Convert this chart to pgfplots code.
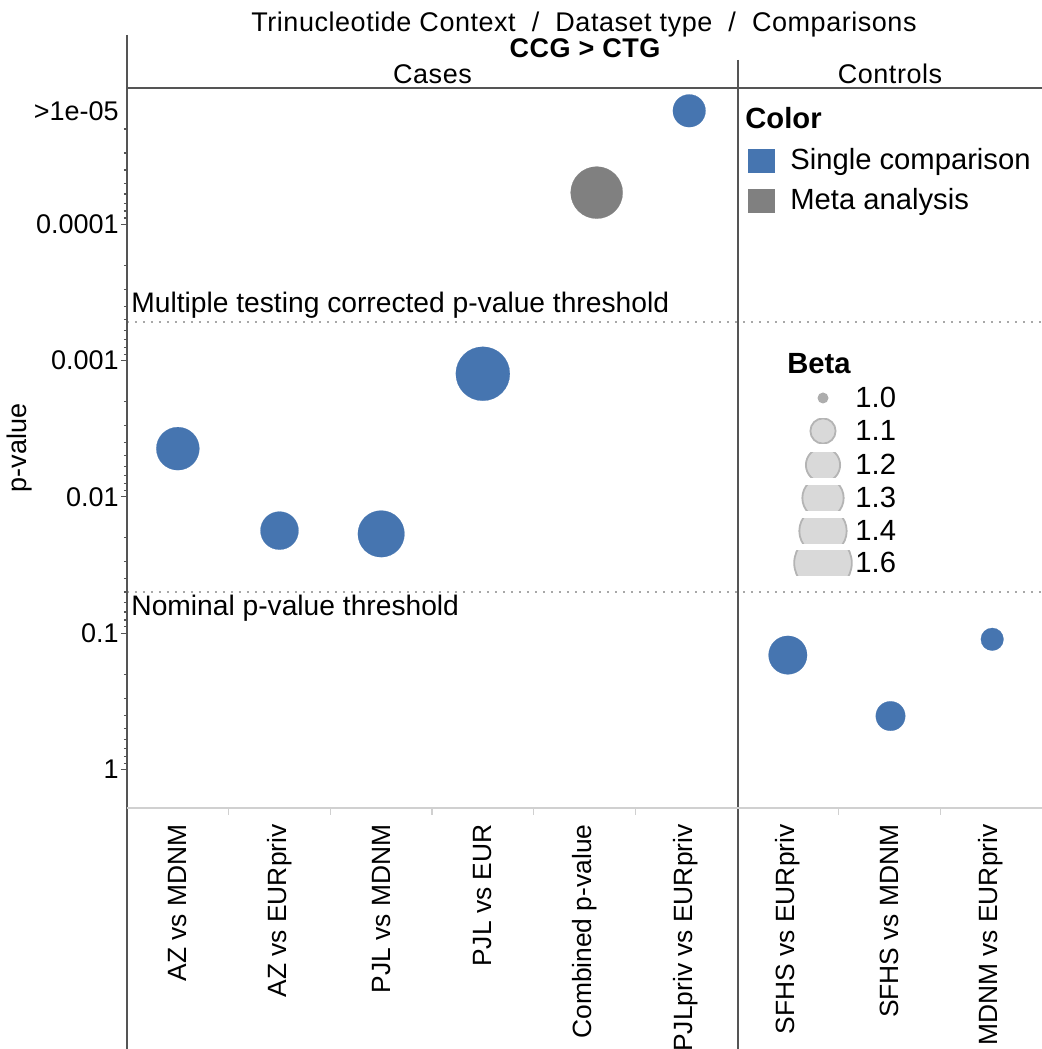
\documentclass[border=0pt]{standalone}
\usepackage{fontspec}
\setmainfont{Liberation Sans}
\newfontfamily\headfam[LetterSpace=2]{Liberation Sans}
\usepackage{pgfplots}
\usepackage{pgfplotstable}
\pgfplotsset{compat=1.18}

\definecolor{cblue}{HTML}{4675B0}
\definecolor{cgray}{HTML}{808080}
\definecolor{frameline}{HTML}{555555}
\definecolor{axisgray}{HTML}{D0D0D0}
\definecolor{threshold}{HTML}{A8A8A8}
\definecolor{legfill}{HTML}{D9D9D9}
\definecolor{legdraw}{HTML}{B4B4B4}

\newcommand\bodyfont{\fontsize{13.5}{16}\selectfont}
\newcommand\catfont{\fontsize{13.2}{16}\selectfont}
\newcommand\legfont{\fontsize{14.6}{17}\selectfont}
\newcommand\capfont{\fontsize{14.1}{17}\selectfont}
\newcommand\headfont{\headfam\fontsize{13.5}{16}\selectfont}

% x = category position, p = p-value, beta = effect size (bubble size)
\pgfplotstableread{
x     p        beta
0     0.00443  1.326
1     0.0177   1.251
2     0.0187   1.386
3     0.00125  1.525
5.03  1.47e-5  1.180
6     0.145    1.257
7.01  0.406    1.143
8.01  0.111    1.077
}\singletable

\pgfplotstableread{
x     p        beta
4.12  5.86e-5  1.486
}\metatable

% bubble radius (pt) from beta
\pgfplotsset{
  bubble/.style={
    scatter, only marks, mark=*,
    visualization depends on={\thisrow{beta} \as \betaval},
    scatter/@pre marker code/.code={%
      \pgfmathsetmacro\bubr{0.5*sqrt(25+1340*(\betaval-1))}%
      \scope[mark size=\bubr pt]%
    },
    scatter/@post marker code/.code={\endscope},
  },
}

\begin{document}
\begin{tikzpicture}
\begin{axis}[
  scale only axis, width=457.5pt, height=360pt,
  xmin=-0.5, xmax=8.5,
  ymode=log, y dir=reverse, ymin=1e-5, ymax=1.92,
  axis line style={draw=none},
  clip=false,
  font=\bodyfont,
  xtick={0,...,8},
  xticklabels={AZ vs MDNM, AZ vs EURpriv, PJL vs MDNM, PJL vs EUR, Combined p-value, PJLpriv vs EURpriv, SFHS vs EURpriv, SFHS vs MDNM, MDNM vs EURpriv},
  xtick style={draw=none},
  xticklabel style={rotate=90, anchor=east, font=\catfont, inner sep=0pt},
  xticklabel shift=5pt,
  ytick={1e-4,1e-3,1e-2,1e-1,1},
  yticklabels={0.0001,0.001,0.01,0.1,1},
  minor ytick={2e-5,3e-5,4e-5,5e-5,6e-5,7e-5,8e-5,9e-5,
               2e-4,3e-4,4e-4,5e-4,6e-4,7e-4,8e-4,9e-4,
               2e-3,3e-3,4e-3,5e-3,6e-3,7e-3,8e-3,9e-3,
               2e-2,3e-2,4e-2,5e-2,6e-2,7e-2,8e-2,9e-2,
               0.2,0.3,0.4,0.5,0.6,0.7,0.8,0.9},
  extra y ticks={1.47e-5},
  extra y tick labels={>1e-05},
  extra y tick style={tick style={draw=none}},
  ytick pos=left,
  tick align=outside,
  major tick length=3pt,
  minor tick length=1.6pt,
  ytick style={color=frameline, line width=0.6pt},
  yticklabel style={font=\bodyfont, inner sep=1pt},
  ylabel={p-value},
  ylabel style={font=\bodyfont},
  every axis y label/.style={at={(rel axis cs:0,0.5)}, xshift=-53.5pt, rotate=90, anchor=center},
]
% significance thresholds
\draw[threshold, line width=1.1pt, dash pattern=on 1.1pt off 2.9pt]
  (axis cs:-0.5,5.23e-4) -- (axis cs:8.5,5.23e-4);
\draw[threshold, line width=1.1pt, dash pattern=on 1.1pt off 2.9pt]
  (axis cs:-0.5,0.05) -- (axis cs:8.5,0.05);

% category boundary ticks below the axis
\pgfplotsinvokeforeach{0.5,1.5,2.5,3.5,4.5,6.5,7.5}{
  \draw[axisgray, line width=0.7pt] (axis cs:#1,1.92) -- ([yshift=-3.5pt]axis cs:#1,1.92);
}

\addplot[bubble, color=cblue, mark options={fill=cblue, draw=cblue, line width=0.1pt}]
  table[x=x, y=p] {\singletable};
\addplot[bubble, color=cgray, mark options={fill=cgray, draw=cgray, line width=0.1pt}]
  table[x=x, y=p] {\metatable};

\coordinate (tl) at (axis cs:-0.5,1e-5);
\end{axis}

% frame, headers and legends, in pixel units of the page (origin top-left)
\begin{scope}[shift={(tl)}, x=0.5pt, y=-0.5pt, shift={(-127,-88)}]
  % frame lines
  \draw[frameline, line width=0.6pt] (127,35) -- (127,1049);
  \draw[frameline, line width=0.6pt] (738,60) -- (738,1049);
  \draw[frameline, line width=0.6pt] (127,88) -- (1042,88);
  \draw[axisgray, line width=0.6pt] (127,808) -- (1042,808);

  % headers
  \node[anchor=base, inner sep=0pt] at (584,31.5)
    {\headfont Trinucleotide Context\ \ /\ \ Dataset type\ \ /\ \ Comparisons};
  \node[anchor=base, inner sep=0pt] at (585,57.5) {\headfont\bfseries CCG > CTG};
  \node[anchor=base, inner sep=0pt] at (432.5,84) {\headfont Cases};
  \node[anchor=base, inner sep=0pt] at (890,84) {\headfont Controls};

  % threshold captions
  \node[anchor=base west, inner sep=0pt] at (131,312.5)
    {\capfont Multiple testing corrected p-value threshold};
  \node[anchor=base west, inner sep=0pt] at (131,616)
    {\capfont Nominal p-value threshold};

  % colour legend
  \node[anchor=base west, inner sep=0pt] at (745,129) {\legfont\bfseries Color};
  \fill[cblue] (748,149) rectangle (775,173);
  \fill[cgray] (748,189) rectangle (775,213);
  \node[anchor=base west, inner sep=0pt] at (790,170) {\legfont Single comparison};
  \node[anchor=base west, inner sep=0pt] at (790,210) {\legfont Meta analysis};

  % beta (size) legend
  \node[anchor=base west, inner sep=0pt] at (787,374) {\legfont\bfseries Beta};
  \foreach \bv/\yy in {1.1/431,1.2/465,1.3/498,1.4/531,1.6/563} {
    \pgfmathsetmacro\rr{sqrt(25+1340*(\bv-1))}
    \begin{scope}
      \clip (780,\yy-12.7) rectangle (860,\yy+12.7);
      \filldraw[fill=legfill, draw=legdraw, line width=0.9pt] (823,\yy) circle[radius=\rr];
    \end{scope}
    \node[anchor=base west, inner sep=0pt] at (855,\yy+10) {\legfont\bv};
  }
  \fill[black!32] (823,398) circle[radius=5.5];
  \node[anchor=base west, inner sep=0pt] at (855,408) {\legfont 1.0};

  \pgfresetboundingbox
  \path[use as bounding box] (0,0) rectangle (1042,1049);
\end{scope}
\end{tikzpicture}
\end{document}
